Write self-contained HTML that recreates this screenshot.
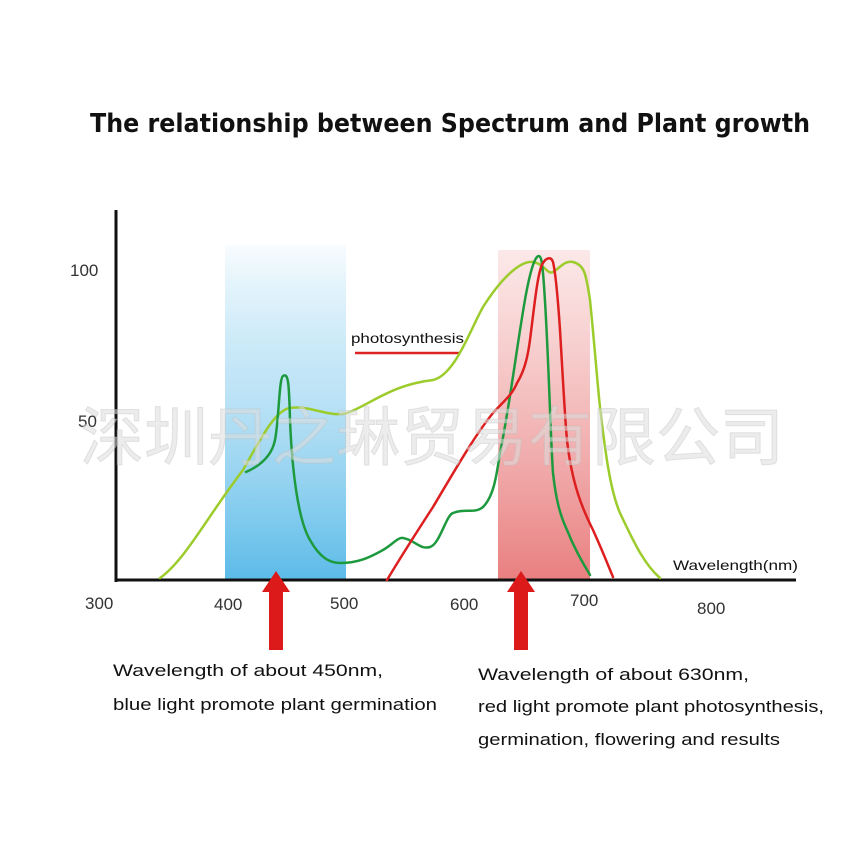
<!DOCTYPE html>
<html><head><meta charset="utf-8"><style>
html,body{margin:0;padding:0;background:#fff;}
</style></head><body>
<svg width="862" height="863" xmlns="http://www.w3.org/2000/svg" style="display:block">
<defs>
<linearGradient id="bl" x1="0" y1="0" x2="0" y2="1">
<stop offset="0" stop-color="#6cc3ec" stop-opacity="0.05"/>
<stop offset="0.45" stop-color="#8fd0f0" stop-opacity="0.6"/>
<stop offset="1" stop-color="#5bbbe8"/>
</linearGradient>
<linearGradient id="rd" x1="0" y1="0" x2="0" y2="1">
<stop offset="0" stop-color="#f4b4b4" stop-opacity="0.3"/>
<stop offset="0.5" stop-color="#f0a8a8" stop-opacity="0.8"/>
<stop offset="1" stop-color="#e97f80"/>
</linearGradient>
</defs>
<text x="90" y="132" textLength="720" lengthAdjust="spacingAndGlyphs" font-family="DejaVu Sans, sans-serif" font-weight="bold" font-size="26" fill="#111">The relationship between Spectrum and Plant growth</text>
<rect x="225" y="245" width="121" height="335" fill="url(#bl)"/>
<rect x="498" y="250" width="92" height="330" fill="url(#rd)"/>
<line x1="116" y1="210" x2="116" y2="582" stroke="#111" stroke-width="3"/>
<line x1="115" y1="580" x2="796" y2="580" stroke="#111" stroke-width="3"/>
<g font-family="Liberation Sans, sans-serif" font-size="17" fill="#333">
<text x="70" y="276">100</text>
<text x="78" y="427">50</text>
<text x="85" y="609">300</text>
<text x="214" y="610">400</text>
<text x="330" y="609">500</text>
<text x="450" y="610">600</text>
<text x="570" y="606">700</text>
<text x="697" y="614">800</text>
</g>
<text x="673" y="570" textLength="125" lengthAdjust="spacingAndGlyphs" font-family="Liberation Sans, sans-serif" font-size="14" fill="#111">Wavelength(nm)</text>
<text x="351" y="343" textLength="113" lengthAdjust="spacingAndGlyphs" font-family="Liberation Sans, sans-serif" font-size="14" fill="#111">photosynthesis</text>
<line x1="355" y1="353" x2="459" y2="353" stroke="#dd2222" stroke-width="2.5"/>
<g fill="none" stroke-width="2.5" stroke-linecap="round">
<path d="M160,578 C185,560 205,520 243,470 C260,440 275,410 290,408 C310,405 330,418 347,413 C370,405 390,385 433,380 C455,375 470,330 483,307 C500,280 520,260 533,262 C545,264 547,275 553,272 C560,268 565,260 573,262 C585,265 586,275 590,300 C595,350 598,390 600,407 C605,450 610,490 620,513 C635,545 645,565 660,578" stroke="#9ccc2c"/>
<path d="M246,472 C262,465 272,455 275,440 C279,420 279,378 283,376 C288,373 289,380 290,420 C292,470 298,520 310,540 C320,558 330,563 340,563 C360,563 372,556 383,550 C392,545 398,537 403,538 C415,540 420,550 430,547 C440,544 446,515 453,513 C465,508 475,514 483,507 C495,495 497,470 500,453 C515,380 525,270 537,257 C541,253 542,262 543,273 C548,330 550,430 553,473 C556,500 560,515 567,530 C575,550 583,563 590,575" stroke="#1e9a3e"/>
<path d="M387,580 C405,550 420,527 433,507 C455,470 475,435 493,413 C505,400 512,395 517,383 C525,370 528,355 530,340 C535,300 538,270 543,263 C546,258 551,256 553,262 C556,275 558,300 560,330 C563,380 565,420 567,440 C572,485 583,510 593,530 C603,552 608,565 613,577" stroke="#dd1f1f"/>
</g>
<text x="432" y="460" text-anchor="middle" font-family="Noto Sans CJK SC, sans-serif" font-size="64" fill="#ddd" fill-opacity="0.55" stroke="#bbb" stroke-opacity="0.35" stroke-width="1">深圳丹之琳贸易有限公司</text>
<g fill="#dd1a1a">
<polygon points="262,592 276,571 290,592 283,592 283,650 269,650 269,592"/>
<polygon points="507,592 521,571 535,592 528,592 528,650 514,650 514,592"/>
</g>
<g font-family="Liberation Sans, sans-serif" font-size="17" fill="#111" lengthAdjust="spacingAndGlyphs">
<text x="113" y="676" textLength="270" lengthAdjust="spacingAndGlyphs">Wavelength of about 450nm,</text>
<text x="113" y="710" textLength="324" lengthAdjust="spacingAndGlyphs">blue light promote plant germination</text>
<text x="478" y="680" textLength="271" lengthAdjust="spacingAndGlyphs">Wavelength of about 630nm,</text>
<text x="478" y="712" textLength="346" lengthAdjust="spacingAndGlyphs">red light promote plant photosynthesis,</text>
<text x="478" y="745" textLength="302" lengthAdjust="spacingAndGlyphs">germination, flowering and results</text>
</g>
</svg>
</body></html>
